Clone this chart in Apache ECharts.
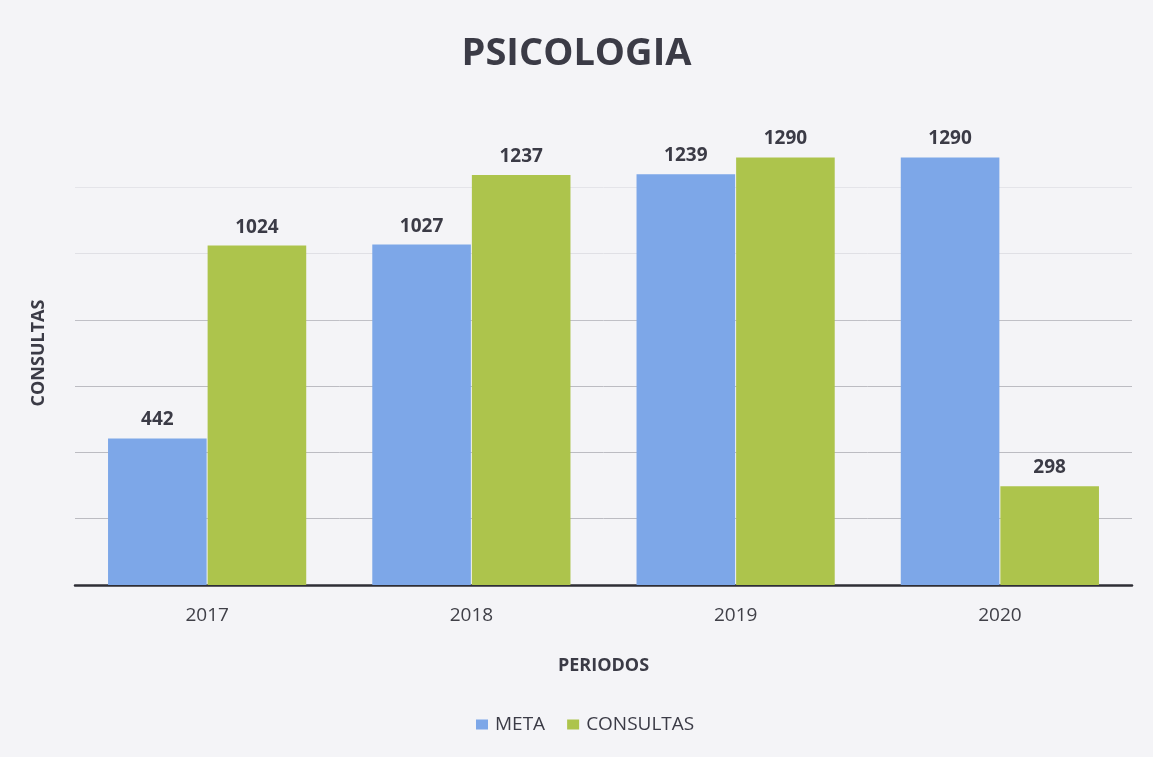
<!DOCTYPE html>
<html>
<head>
<meta charset="utf-8">
<title>PSICOLOGIA</title>
<script src="https://cdn.jsdelivr.net/npm/echarts@6/dist/echarts.min.js"></script>
<style>
  html, body { margin: 0; padding: 0; background: #f4f4f7; }
  #main { width: 1153px; height: 757px; }
</style>
</head>
<body>
<div id="main"></div>
<script>
  // data
  var periodos = ['2017', '2018', '2019', '2020'];
  var meta = [442, 1027, 1239, 1290];
  var consultas = [1024, 1237, 1290, 298];

  var textColor = '#3b3b46';
  var font = '"Open Sans", "Noto Sans", sans-serif';

  var myChart = echarts.init(document.getElementById('main'));

  var labelStyle = {
    show: true,
    position: 'top',
    distance: 9,
    color: textColor,
    fontFamily: font,
    fontWeight: 'bold',
    fontSize: 19
  };

  var option = {
    backgroundColor: '#f4f4f7',
    animation: false,
    title: {
      text: 'PSICOLOGIA',
      left: 'center',
      top: 30,
      textStyle: {
        color: textColor,
        fontFamily: font,
        fontWeight: 'bold',
        fontSize: 38
      }
    },
    legend: {
      data: ['META', 'CONSULTAS'],
      left: 471,
      top: 710,
      itemWidth: 12,
      itemHeight: 10,
      itemGap: 22,
      icon: 'rect',
      textStyle: {
        color: textColor,
        fontFamily: font,
        fontSize: 19,
        padding: [0, 0, 0, 2]
      }
    },
    grid: {
      left: 75,
      right: 21,
      top: 121,
      bottom: 172
    },
    xAxis: {
      type: 'category',
      data: periodos,
      name: 'PERIODOS',
      nameLocation: 'middle',
      nameGap: 72,
      nameTextStyle: {
        color: textColor,
        fontFamily: font,
        fontWeight: 'bold',
        fontSize: 18
      },
      axisLine: { lineStyle: { color: '#2e2e36', width: 2.5 } },
      axisTick: { show: false },
      axisLabel: {
        color: '#404048',
        fontFamily: font,
        fontSize: 19,
        margin: 21
      }
    },
    yAxis: {
      type: 'value',
      min: 0,
      max: 1400,
      interval: 200,
      name: 'CONSULTAS',
      nameLocation: 'middle',
      nameGap: 27,
      nameRotate: 90,
      nameTextStyle: {
        color: textColor,
        fontFamily: font,
        fontWeight: 'bold',
        fontSize: 18
      },
      axisLabel: { show: false },
      axisLine: { show: false },
      axisTick: { show: false },
      splitLine: {
        lineStyle: { color: ['#c8c8cc', '#bcbcc2', '#bcbcc2', '#bcbcc2', '#c0c0c6', '#e0e0e5', '#e4e4e9', 'rgba(0,0,0,0)'], width: 1 }
      }
    },
    series: [
      {
        name: 'META',
        type: 'bar',
        data: meta,
        barGap: '1%',
        barCategoryGap: '25%',
        itemStyle: { color: '#7da7e8' },
        label: labelStyle
      },
      {
        name: 'CONSULTAS',
        type: 'bar',
        data: consultas,
        itemStyle: { color: '#adc44c' },
        label: labelStyle
      }
    ]
  };

  myChart.setOption(option);
</script>
</body>
</html>
